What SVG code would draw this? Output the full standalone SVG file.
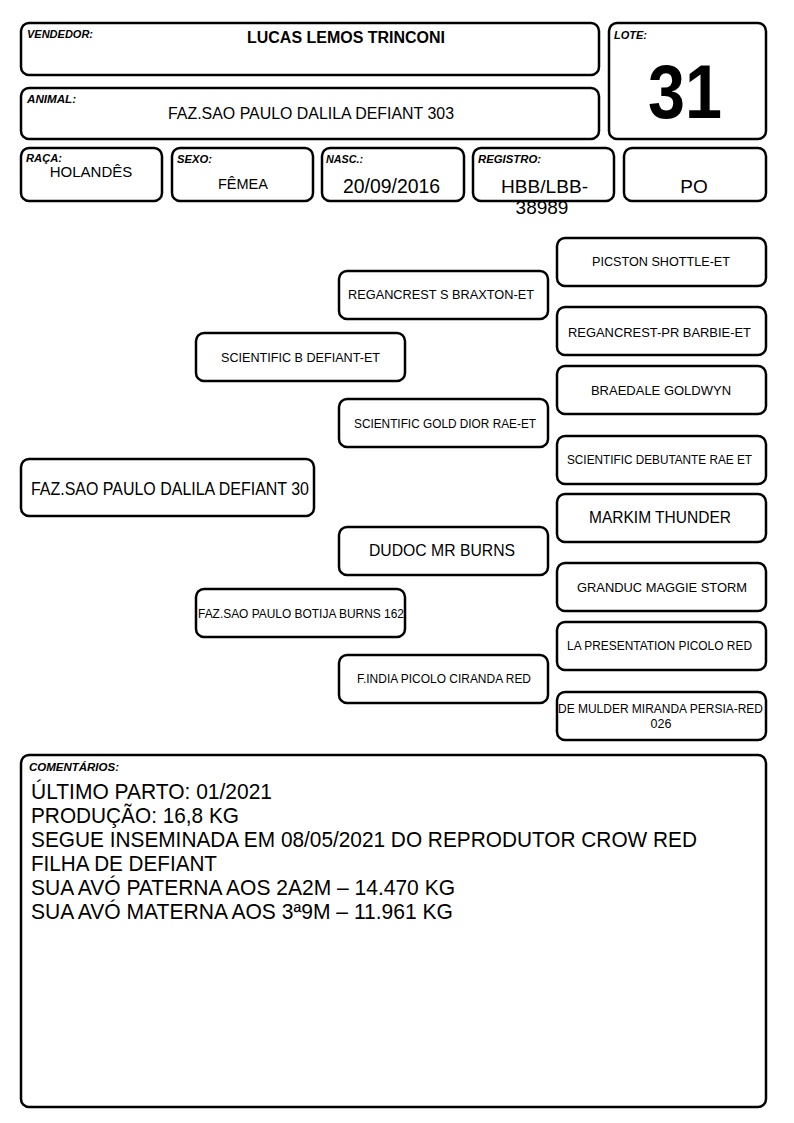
<svg xmlns="http://www.w3.org/2000/svg" width="794" height="1123" viewBox="0 0 794 1123">
<style>
rect.b{fill:#fff;stroke:#000;stroke-width:2.5}
text{font-family:"Liberation Sans",Arial,sans-serif;fill:#000}
.lbl{font-size:11px;font-weight:bold;font-style:italic}
.c{text-anchor:middle}
</style>
<rect width="794" height="1123" fill="#fff"/>
<g id="vendedor">
<rect class="b" x="21" y="23" width="578" height="52" rx="8"/>
<text class="lbl" x="27" y="38" textLength="66" lengthAdjust="spacingAndGlyphs">VENDEDOR:</text>
<text class="c" x="346" y="43" font-size="16" font-weight="bold" textLength="198" lengthAdjust="spacingAndGlyphs">LUCAS LEMOS TRINCONI</text>
</g>
<g id="animal">
<rect class="b" x="21" y="88" width="578" height="51" rx="8"/>
<text class="lbl" x="27" y="103" textLength="49" lengthAdjust="spacingAndGlyphs">ANIMAL:</text>
<text class="c" x="311" y="119" font-size="16" textLength="286" lengthAdjust="spacingAndGlyphs">FAZ.SAO PAULO DALILA DEFIANT 303</text>
</g>
<g id="lote">
<rect class="b" x="609" y="23" width="157" height="116" rx="8"/>
<text class="lbl" x="614" y="39" textLength="33" lengthAdjust="spacingAndGlyphs">LOTE:</text>
<text class="c" x="685" y="118" font-size="76" font-weight="bold" textLength="74" lengthAdjust="spacingAndGlyphs">31</text>
</g>
<g id="raca">
<rect class="b" x="21" y="148" width="141" height="53" rx="8"/>
<text class="lbl" x="26" y="162" textLength="36" lengthAdjust="spacingAndGlyphs">RAÇA:</text>
<text class="c" x="91" y="177" font-size="15">HOLANDÊS</text>
</g>
<g id="sexo">
<rect class="b" x="172" y="148" width="141" height="53" rx="8"/>
<text class="lbl" x="177" y="163" textLength="35" lengthAdjust="spacingAndGlyphs">SEXO:</text>
<text class="c" x="243" y="189" font-size="14.5">FÊMEA</text>
</g>
<g id="nasc">
<rect class="b" x="322" y="148" width="142" height="53" rx="8"/>
<text class="lbl" x="326" y="163" textLength="37" lengthAdjust="spacingAndGlyphs">NASC.:</text>
<text class="c" x="391.5" y="193" font-size="19.5" textLength="97" lengthAdjust="spacingAndGlyphs">20/09/2016</text>
</g>
<g id="registro">
<rect class="b" x="473" y="148" width="141" height="53" rx="8"/>
<text class="lbl" x="478" y="163" textLength="63" lengthAdjust="spacingAndGlyphs">REGISTRO:</text>
<text class="c" x="544.5" y="193" font-size="19" textLength="87" lengthAdjust="spacingAndGlyphs">HBB/LBB-</text>
<text class="c" x="542" y="214" font-size="19">38989</text>
</g>
<g id="po">
<rect class="b" x="624" y="148" width="142" height="53" rx="8"/>
<text class="c" x="694" y="193" font-size="19">PO</text>
</g>
<g id="connectors"></g>
<g id="n-animal">
<rect class="b" x="21" y="459" width="293" height="57" rx="8"/>
<text class="c" x="170" y="495" font-size="18.5" textLength="278" lengthAdjust="spacingAndGlyphs">FAZ.SAO PAULO DALILA DEFIANT 30</text>
</g>
<g id="n-pai">
<rect class="b" x="196" y="333" width="209" height="48" rx="8"/>
<text class="c" x="300.5" y="362" font-size="12.5" textLength="159" lengthAdjust="spacingAndGlyphs">SCIENTIFIC B DEFIANT-ET</text>
</g>
<g id="n-mae">
<rect class="b" x="196" y="589" width="209" height="48" rx="8"/>
<text class="c" x="301" y="618" font-size="12" textLength="206" lengthAdjust="spacingAndGlyphs">FAZ.SAO PAULO BOTIJA BURNS 162</text>
</g>
<g id="n-avo-pp">
<rect class="b" x="339" y="271" width="209" height="48" rx="8"/>
<text class="c" x="441" y="299" font-size="12.5" textLength="186" lengthAdjust="spacingAndGlyphs">REGANCREST S BRAXTON-ET</text>
</g>
<g id="n-avo-pm">
<rect class="b" x="339" y="399" width="209" height="48" rx="8"/>
<text class="c" x="445" y="428" font-size="12" textLength="182" lengthAdjust="spacingAndGlyphs">SCIENTIFIC GOLD DIOR RAE-ET</text>
</g>
<g id="n-avo-mp">
<rect class="b" x="339" y="527" width="209" height="48" rx="8"/>
<text class="c" x="442" y="556" font-size="16.5" textLength="146" lengthAdjust="spacingAndGlyphs">DUDOC MR BURNS</text>
</g>
<g id="n-avo-mm">
<rect class="b" x="339" y="655" width="209" height="48" rx="8"/>
<text class="c" x="444" y="683" font-size="12.5" textLength="174" lengthAdjust="spacingAndGlyphs">F.INDIA PICOLO CIRANDA RED</text>
</g>
<g id="n-b1">
<rect class="b" x="557" y="238" width="209" height="48" rx="8"/>
<text class="c" x="661" y="266" font-size="13" textLength="138" lengthAdjust="spacingAndGlyphs">PICSTON SHOTTLE-ET</text>
</g>
<g id="n-b2">
<rect class="b" x="557" y="307" width="209" height="48" rx="8"/>
<text class="c" x="659.5" y="337" font-size="13" textLength="183" lengthAdjust="spacingAndGlyphs">REGANCREST-PR BARBIE-ET</text>
</g>
<g id="n-b3">
<rect class="b" x="557" y="366" width="209" height="48" rx="8"/>
<text class="c" x="661" y="395" font-size="13">BRAEDALE GOLDWYN</text>
</g>
<g id="n-b4">
<rect class="b" x="557" y="436" width="209" height="48" rx="8"/>
<text class="c" x="659.5" y="464" font-size="12.5" textLength="185" lengthAdjust="spacingAndGlyphs">SCIENTIFIC DEBUTANTE RAE ET</text>
</g>
<g id="n-b5">
<rect class="b" x="557" y="494" width="209" height="48" rx="8"/>
<text class="c" x="660" y="523" font-size="16.5" textLength="142" lengthAdjust="spacingAndGlyphs">MARKIM THUNDER</text>
</g>
<g id="n-b6">
<rect class="b" x="557" y="563" width="209" height="48" rx="8"/>
<text class="c" x="662" y="592" font-size="13.5" textLength="170" lengthAdjust="spacingAndGlyphs">GRANDUC MAGGIE STORM</text>
</g>
<g id="n-b7">
<rect class="b" x="557" y="622" width="209" height="48" rx="8"/>
<text class="c" x="659.5" y="650" font-size="12.5" textLength="185" lengthAdjust="spacingAndGlyphs">LA PRESENTATION PICOLO RED</text>
</g>
<g id="n-b8">
<rect class="b" x="557" y="692" width="209" height="48" rx="8"/>
<text class="c" x="660.5" y="713" font-size="12.5" textLength="205" lengthAdjust="spacingAndGlyphs">DE MULDER MIRANDA PERSIA-RED</text>
<text class="c" x="661" y="728" font-size="12.5">026</text>
</g>
<g id="comentarios">
<rect class="b" x="21" y="755" width="745" height="352" rx="8"/>
<text class="lbl" x="29" y="771" textLength="90" lengthAdjust="spacingAndGlyphs">COMENTÁRIOS:</text>
<g font-size="21.5" lengthAdjust="spacingAndGlyphs">
<text x="31" y="799" textLength="241" lengthAdjust="spacingAndGlyphs">ÚLTIMO PARTO: 01/2021</text>
<text x="31" y="823" textLength="208" lengthAdjust="spacingAndGlyphs">PRODUÇÃO: 16,8 KG</text>
<text x="31" y="847" textLength="666" lengthAdjust="spacingAndGlyphs">SEGUE INSEMINADA EM 08/05/2021 DO REPRODUTOR CROW RED</text>
<text x="31" y="871" textLength="186" lengthAdjust="spacingAndGlyphs">FILHA DE DEFIANT</text>
<text x="31" y="895" textLength="424" lengthAdjust="spacingAndGlyphs">SUA AVÓ PATERNA AOS 2A2M – 14.470 KG</text>
<text x="31" y="919" textLength="422" lengthAdjust="spacingAndGlyphs">SUA AVÓ MATERNA AOS 3ª9M – 11.961 KG</text>
</g>
</g>
</svg>
